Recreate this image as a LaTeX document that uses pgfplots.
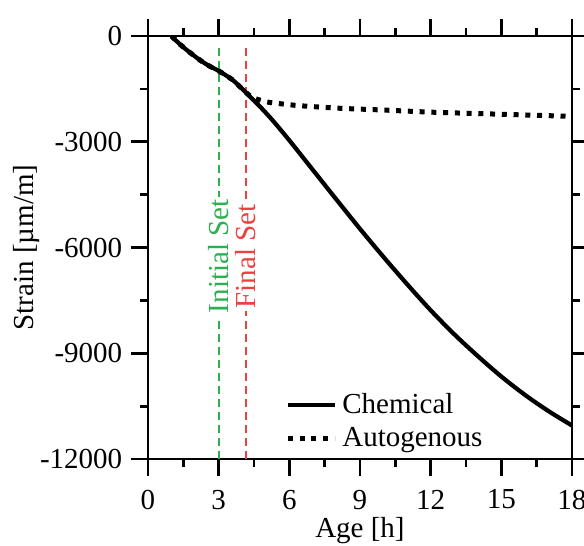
\documentclass[border=0pt]{standalone}
\usepackage{fontspec}
\setmainfont{Liberation Serif}
\usepackage{pgfplots}
\pgfplotsset{compat=1.18}
\definecolor{setgreen}{RGB}{45,175,80}
\definecolor{setred}{RGB}{235,65,65}
\begin{document}
\begin{tikzpicture}
\begin{axis}[
  scale only axis,
  width=169.6pt, height=169.2pt,
  xmin=0, xmax=18, ymin=-12000, ymax=0,
  xtick={0,3,...,18}, minor x tick num=1,
  ytick={-12000,-9000,-6000,-3000,0}, minor y tick num=1,
  scaled y ticks=false,
  /pgf/number format/1000 sep={},
  /pgf/number format/assume math mode=true,
  tick align=outside, tick pos=both,
  xticklabel pos=bottom, yticklabel pos=left,
  major tick length=6.8pt, minor tick length=3.2pt,
  every tick/.style={black, line width=1.1pt},
  axis line style={line width=1.1pt},
  font=\fontsize{11.6}{13.6}\selectfont,
  xticklabel style={yshift=-2pt},
  xlabel={Age [h]}, ylabel={Strain [µm/m]},
  xlabel style={at={(rel axis cs:0.5,0)}, anchor=center, yshift=-28.6pt},
  ylabel style={at={(rel axis cs:0,0.5)}, anchor=center, rotate=0, yshift=48.4pt},
  legend style={draw=none, fill=none, at={(rel axis cs:0.305,0.18)}, anchor=north west, row sep=0pt, font=\fontsize{11.6}{13.6}\selectfont},
  legend cell align=left,
  legend image code/.code={\draw[#1] (0pt,0pt) -- (18.8pt,0pt);},
]
\addplot[setgreen, line width=0.8pt, dash pattern=on 3.2pt off 2pt, forget plot] coordinates {(3,-12000) (3,-200)};
\addplot[setred, line width=0.8pt, dash pattern=on 3.2pt off 2pt, forget plot] coordinates {(4.16,-12000) (4.16,-200)};
\addplot[black, line width=1.7pt, smooth] coordinates {
(1.0,0) (1.3,-200) (1.65,-400) (2.2,-680) (2.6,-850) (3.0,-990) (3.6,-1250) (4.15,-1600) (4.75,-2000) (5.3,-2400) (6.0,-2960) (7.0,-3800) (8.0,-4640) (9.0,-5470) (10.0,-6270) (11.0,-7040) (12.0,-7780) (13.0,-8460) (14.0,-9080) (15.0,-9660) (16.0,-10180) (17.0,-10640) (18.0,-11050)};
\addlegendentry{Chemical}
\addplot[black, line width=2pt, dash pattern=on 2pt off 2.7pt, smooth] coordinates {
(1.0,0) (1.3,-200) (1.65,-400) (2.2,-680) (2.6,-850) (3.0,-990) (3.6,-1250) (4.15,-1600) (4.5,-1760) (5.05,-1870) (5.6,-1920) (6.5,-1980) (8.15,-2050) (10,-2100) (12,-2160) (14,-2200) (16,-2240) (18,-2280)};
\addlegendentry{Autogenous}
\node[rotate=90, fill=white, inner sep=1pt, text=setgreen] at (axis cs:3,-6250) {Initial Set};
\node[rotate=90, fill=white, inner sep=1pt, text=setred] at (axis cs:4.16,-6250) {Final Set};
\coordinate (SW) at (rel axis cs:0,0);
\end{axis}
\pgfresetboundingbox
\path[use as bounding box] (SW) ++(-59.2pt,-34.4pt) rectangle ++(233.6pt,218pt);
\end{tikzpicture}
\end{document}
